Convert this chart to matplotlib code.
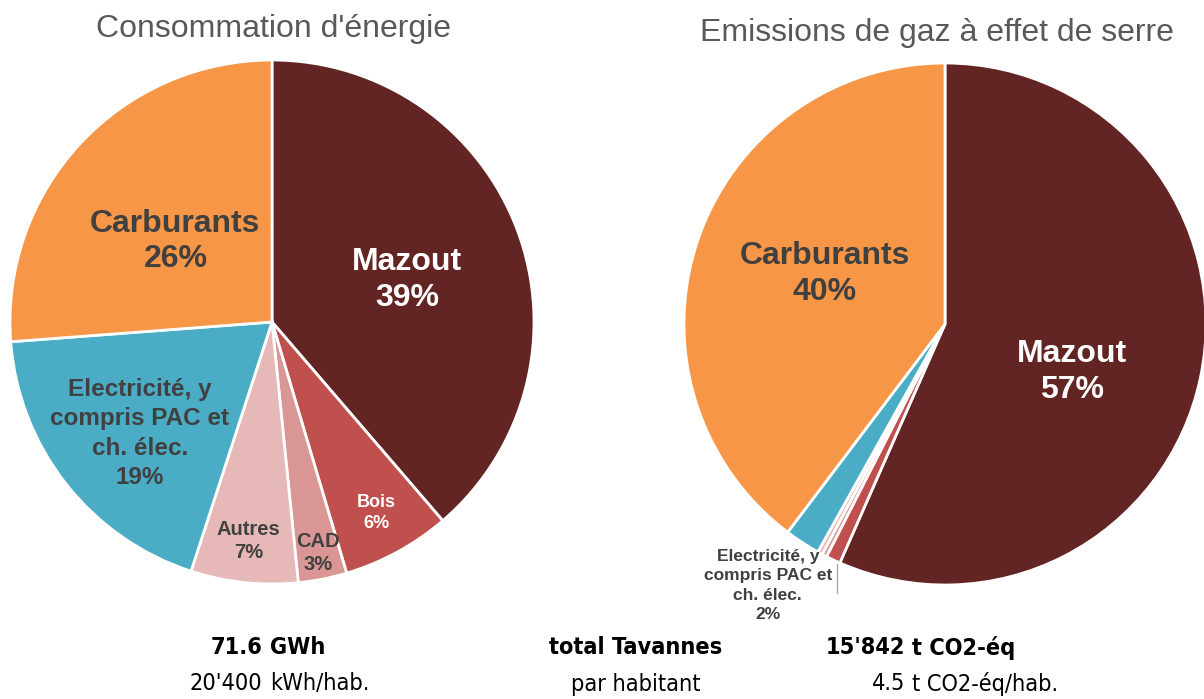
import numpy as np
import matplotlib
matplotlib.use("Agg")
import matplotlib.pyplot as plt

# ---------------- data ----------------
categories = ["Mazout", "Bois", "CAD", "Autres",
              "Electricité, y\ncompris PAC et\nch. élec.", "Carburants"]
energy_share = [38.7, 6.7, 3.0, 6.6, 18.8, 26.2]
ghg_share = [56.6, 0.9, 0.3, 0.3, 2.2, 39.7]
energy_labels = ["Mazout\n39%", "Bois\n6%", "CAD\n3%", "Autres\n7%",
                 "Electricité, y\ncompris PAC et\nch. élec.\n19%", "Carburants\n26%"]
ghg_labels = ["Mazout\n57%", None, None, None,
              "Electricité, y\ncompris PAC et\nch. élec.\n2%", "Carburants\n40%"]
colors = ["#632523", "#C0504D", "#D99694", "#E6B9B8", "#4BACC6", "#F79646"]

title_left = "Consommation d'énergie"
title_right = "Emissions de gaz à effet de serre"
energy_total = ("71.6", "GWh")
energy_per_hab = ("20'400", "kWh/hab.")
ghg_total = ("15'842", "t CO2-éq")
ghg_per_hab = ("4.5", "t CO2-éq/hab.")
mid_labels = ["total Tavannes", "par habitant"]

# ---------------- figure ----------------
W, H = 1204, 699
fig = plt.figure(figsize=(W / 100, H / 100), dpi=100)
fig.patch.set_facecolor("white")

def px_axes(cx, cy, r):
    return fig.add_axes([(cx - r) / W, (H - cy - r) / H, 2 * r / W, 2 * r / H])

DARK = "#404040"
TXT = ["white", "white", DARK, DARK, DARK, DARK]

def draw_pie(ax, values, labels, styles):
    wedges, _ = ax.pie(values, colors=colors, startangle=90, counterclock=False,
                       wedgeprops=dict(edgecolor="white", linewidth=2.0),
                       radius=1.0)
    ax.set_xlim(-1, 1)
    ax.set_ylim(-1, 1)
    ax.set_aspect("auto")
    ax.axis("off")
    for w, lab, st, col in zip(wedges, labels, styles, TXT):
        if lab is None:
            continue
        dist, dang, size, c, ls = st
        ang = np.deg2rad((w.theta1 + w.theta2) / 2 + dang)
        ax.text(dist * np.cos(ang), dist * np.sin(ang), lab, ha="center", va="center",
                fontsize=size, fontweight="bold", color=c or col,
                family=["Liberation Sans", "DejaVu Sans"], linespacing=ls,
                clip_on=False)
    return wedges

# left pie
axL = px_axes(272, 322, 262)
draw_pie(axL, energy_share, energy_labels,
         [(0.54, -3, 23, None, 1.25), (0.83, 0, 13, None, 1.35),
          (0.90, 0, 14.5, None, 1.25), (0.84, 0, 14.5, None, 1.25),
          (0.66, 2, 17.5, None, 1.34), (0.48, 3, 23, None, 1.25)])

# right pie
axR = px_axes(945, 324, 261)
wR = draw_pie(axR, ghg_share, ghg_labels,
              [(0.52, -9, 23, None, 1.25), None, None, None,
               (1.21, -1, 12.5, DARK, 1.35), (0.50, -4, 23, None, 1.25)])
# leader line from Bois wedge start
a = np.deg2rad(wR[1].theta2)
x0, y0 = np.cos(a), np.sin(a)
axR.plot([x0 - 0.01, x0 - 0.01], [y0 - 0.005, y0 - 0.115], color="#A6A6A6", lw=1.0,
         clip_on=False)

# titles
tfont = ["Liberation Sans", "DejaVu Sans"]
fig.text(273 / W, 1 - 29 / H, title_left, ha="center", va="center", fontsize=23,
         color="#595959", family=tfont)
fig.text(937 / W, 1 - 33 / H, title_right, ha="center", va="center", fontsize=23,
         color="#595959", family=tfont)

# bottom summary
bfont = ["DejaVu Sans"]
rows = [(648, "bold", energy_total, mid_labels[0], ghg_total),
        (684, "normal", energy_per_hab, mid_labels[1], ghg_per_hab)]
for y, wt, left, mid, right in rows:
    yy = 1 - y / H
    kw = dict(va="center", fontsize=16.8, fontweight=wt, family=bfont,
              fontstretch="condensed", color="black")
    fig.text(262 / W, yy, left[0], ha="right", **kw)
    fig.text(270 / W, yy, left[1], ha="left", **kw)
    fig.text(636 / W, yy, mid, ha="center", **kw)
    fig.text(905 / W, yy, right[0], ha="right", **kw)
    fig.text(912 / W, yy, right[1], ha="left", **kw)

fig.savefig("out.png", dpi=100, facecolor="white")
